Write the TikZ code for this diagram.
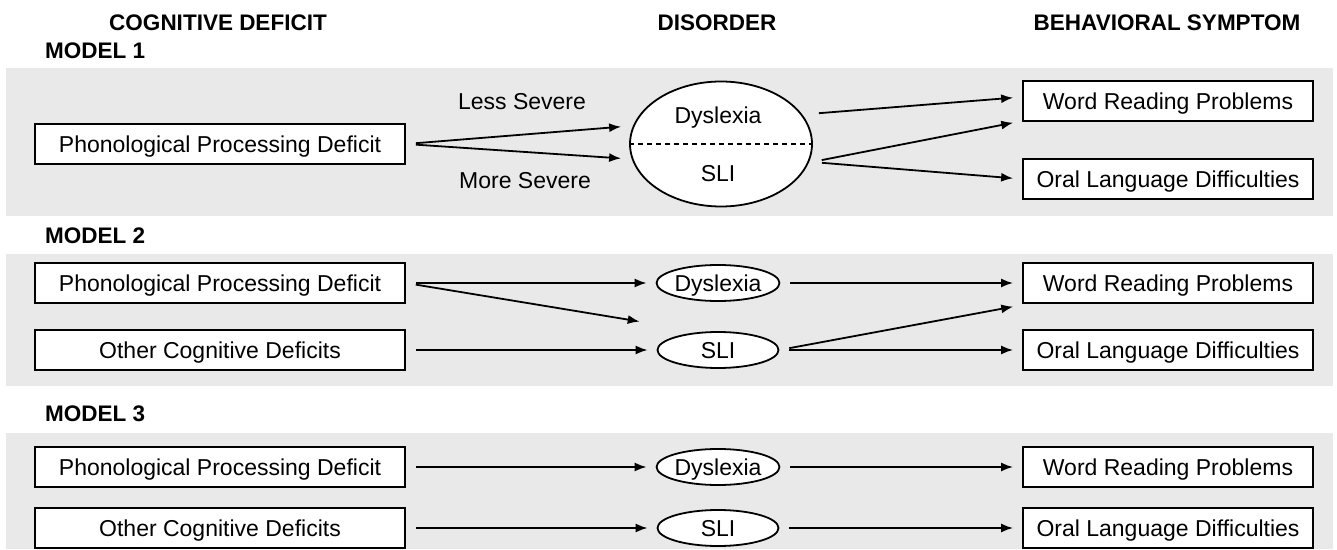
\documentclass[tikz,border=0pt]{standalone}
\usepackage{fontspec}
\setmainfont{Liberation Sans}
\usepackage{tikz}
\usetikzlibrary{arrows.meta,shapes.geometric}
\definecolor{bandgray}{RGB}{233,233,233}
\tikzstyle{deficit} = [draw, fill=white, line width=1.8pt, minimum width=370pt, minimum height=40pt, inner sep=0pt]
\tikzstyle{symptom} = [draw, fill=white, line width=1.8pt, minimum width=290pt, minimum height=40pt, inner sep=0pt]
\tikzstyle{disorder} = [ellipse, draw, fill=white, line width=1.8pt, minimum width=121pt, minimum height=36pt, inner sep=0pt]
\tikzstyle{arr} = [-{Latex[length=12pt,width=9pt]}, line width=1.8pt, shorten <=10pt, shorten >=9pt]
\tikzstyle{heading} = [font=\fontsize{22.5}{26}\selectfont\bfseries, inner sep=0pt]

\begin{document}
\begin{tikzpicture}[x=1pt, y=1pt, font=\fontsize{23}{27}\selectfont, text height=16.5pt, text depth=0pt]
	\useasboundingbox (0,0) rectangle (1337,549);
	\fill[bandgray] (6,333) rectangle (1333,481);
	\fill[bandgray] (6,163) rectangle (1333,295);
	\fill[bandgray] (6,0) rectangle (1333,116);
	
	\node[heading] (hcog) at (218,527) {COGNITIVE DEFICIT};
	\node[heading] (hdis) at (717,527) {DISORDER};
	\node[heading] (hbeh) at (1167,527) {BEHAVIORAL SYMPTOM};
	\node[heading, anchor=west] (m1) at (45,499) {MODEL 1};
	\node[heading, anchor=west] (m2) at (45,314) {MODEL 2};
	\node[heading, anchor=west] (m3) at (45,136) {MODEL 3};
	
	% model 1
	\node[deficit] (ppd1) at (220,405) {Phonological Processing Deficit};
	\node[ellipse, draw, fill=white, line width=1.8pt, minimum width=182pt, minimum height=125pt] (ell1) at (721,405) {};
	\draw[line width=1.4pt, dash pattern=on 5pt off 4pt] (ell1.west) -- (ell1.east);
	\node (dys1) at (718,434) {Dyslexia};
	\node (sli1) at (718,376) {SLI};
	\node (less) at (522,448) {Less Severe};
	\node (more) at (525,369) {More Severe};
	\node[symptom] (wrp1) at (1168,448) {Word Reading Problems};
	\node[symptom] (old1) at (1168,370) {Oral Language Difficulties};
	
	\draw[arr] (ppd1.east) -- ([shift={(1,18)}]ell1.west);
	\draw[arr] (ppd1.east) -- ([shift={(1,-15)}]ell1.west);
	\draw[arr] ([shift={(-4,30)}]ell1.east) -- ([shift={(0,4)}]wrp1.west);
	\draw[arr] ([shift={(-1,-18)}]ell1.east) -- ([shift={(0,-20)}]wrp1.west);
	\draw[arr] ([shift={(-1,-18)}]ell1.east) -- (old1.west);
	
	% model 2
	\node[deficit] (ppd2) at (220,266) {Phonological Processing Deficit};
	\node[deficit] (ocd2) at (220,199) {Other Cognitive Deficits};
	\node[disorder] (dys2) at (718,266) {Dyslexia};
	\node[disorder] (sli2) at (718,199) {SLI};
	\node[symptom] (wrp2) at (1168,266) {Word Reading Problems};
	\node[symptom] (old2) at (1168,199) {Oral Language Difficulties};
	
	\draw[arr] (ppd2.east) -- (dys2.west);
	\draw[arr] (ppd2.east) -- ([shift={(-8,27)}]sli2.west);
	\draw[arr] (ocd2.east) -- (sli2.west);
	\draw[arr] (dys2.east) -- (wrp2.west);
	\draw[arr] (sli2.east) -- ([shift={(0,-22)}]wrp2.west);
	\draw[arr] (sli2.east) -- (old2.west);
	
	% model 3
	\node[deficit] (ppd3) at (220,82) {Phonological Processing Deficit};
	\node[deficit] (ocd3) at (220,21) {Other Cognitive Deficits};
	\node[disorder] (dys3) at (718,82) {Dyslexia};
	\node[disorder] (sli3) at (718,21) {SLI};
	\node[symptom] (wrp3) at (1168,82) {Word Reading Problems};
	\node[symptom] (old3) at (1168,21) {Oral Language Difficulties};
	
	\draw[arr] (ppd3.east) -- (dys3.west);
	\draw[arr] (ocd3.east) -- (sli3.west);
	\draw[arr] (dys3.east) -- (wrp3.west);
	\draw[arr] (sli3.east) -- (old3.west);
\end{tikzpicture}
\end{document}
